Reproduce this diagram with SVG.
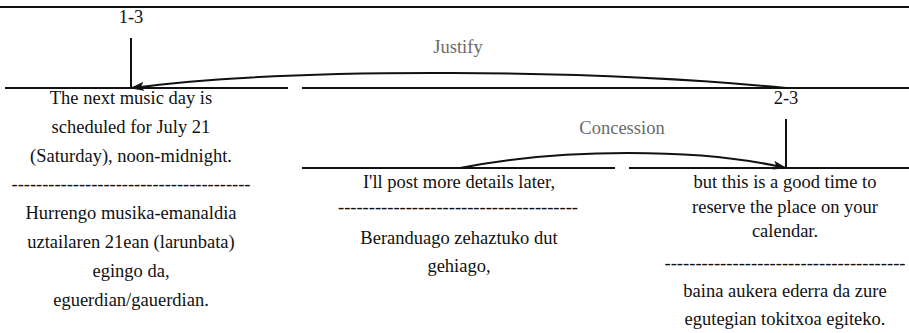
<svg xmlns="http://www.w3.org/2000/svg" width="909" height="333" viewBox="0 0 909 333">
<style>
.t{font-family:"Liberation Serif","Times New Roman",serif;font-size:18.5px;fill:#111;text-anchor:middle}
.lbl{font-family:"Liberation Serif","Times New Roman",serif;font-size:18.5px;fill:#6a6a6a;text-anchor:middle}
.span{stroke:#111;stroke-width:2;fill:none}
.conn{stroke:#111;stroke-width:2;fill:none;marker-end:url(#arr)}
</style>
<defs>
<marker id="arr" markerWidth="14" markerHeight="10" refX="13" refY="5" orient="auto" markerUnits="userSpaceOnUse">
<path d="M0,0.5 L14,5 L0,9.5 L3,5 Z" fill="#111"/>
</marker>
</defs>
<rect width="909" height="333" fill="#fff"/>
<g id="n13">
<line class="span" x1="0" y1="7" x2="909" y2="7"/>
<text class="t" x="131" y="23">1-3</text>
<line class="span" x1="131" y1="38" x2="131" y2="88"/>
</g>
<g id="n23">
<line class="span" x1="302" y1="88" x2="909" y2="88"/>
<text class="t" x="786" y="104">2-3</text>
<line class="span" x1="786" y1="119" x2="786" y2="168"/>
</g>
<g id="s1">
<line class="span" x1="5" y1="88" x2="288" y2="88"/>
<text class="t" x="131" y="104">The next music day is</text>
<text class="t" x="131" y="133">scheduled for July 21</text>
<text class="t" x="131" y="162">(Saturday), noon-midnight.</text>
<text class="t" x="131" y="190" textLength="239" lengthAdjust="spacing">---------------------------------------</text>
<text class="t" x="131" y="219">Hurrengo musika-emanaldia</text>
<text class="t" x="131" y="248">uztailaren 21ean (larunbata)</text>
<text class="t" x="131" y="277">egingo da,</text>
<text class="t" x="131" y="306">eguerdian/gauerdian.</text>
</g>
<g id="s2">
<line class="span" x1="302" y1="168" x2="615" y2="168"/>
<text class="t" x="459" y="188">I'll post more details later,</text>
<text class="t" x="458" y="213" textLength="240" lengthAdjust="spacing">---------------------------------------</text>
<text class="t" x="459" y="244">Beranduago zehaztuko dut</text>
<text class="t" x="459" y="272">gehiago,</text>
</g>
<g id="s3">
<line class="span" x1="629" y1="168" x2="909" y2="168"/>
<text class="t" x="785" y="188">but this is a good time to</text>
<text class="t" x="785" y="213">reserve the place on your</text>
<text class="t" x="785" y="237">calendar.</text>
<text class="t" x="785" y="269" textLength="241" lengthAdjust="spacing">---------------------------------------</text>
<text class="t" x="785" y="297">baina aukera ederra da zure</text>
<text class="t" x="785" y="325">egutegian tokitxoa egiteko.</text>
</g>
<g id="connectors">
<path class="conn" d="M786,88 C600,70 300,66 131,88"/>
<text class="lbl" x="458" y="53">Justify</text>
<path class="conn" d="M460,168 C560,148 700,148 786,168"/>
<text class="lbl" x="622" y="134">Concession</text>
</g>
</svg>
